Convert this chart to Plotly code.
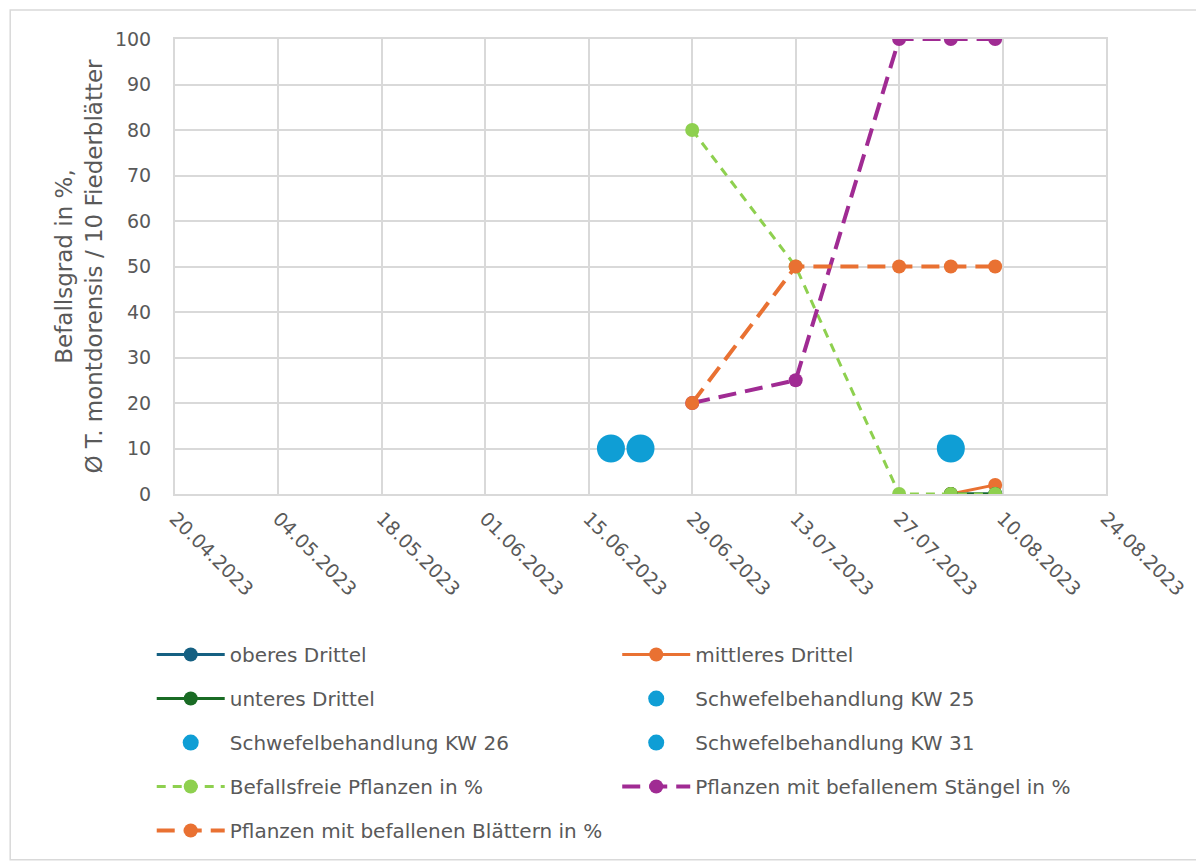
"""Befallsverlauf T. montdorensis 2023 - Plotly Nachbau."""
import plotly.graph_objs as go

# Drittel (Fiederblaetter)
dates_drittel = ["2023-08-03", "2023-08-09"]
oberes_drittel = [0, 0]
mittleres_drittel = [0, 2]
unteres_drittel = [0, 0]

# Schwefelbehandlungen
date_kw25 = ["2023-06-18"]
date_kw26 = ["2023-06-22"]
date_kw31 = ["2023-08-03"]
value_behandlung = [10]

# Bonituren Pflanzen in %
survey_dates = ["2023-06-29", "2023-07-13", "2023-07-27", "2023-08-03", "2023-08-09"]
befallsfrei = [80, 50, 0, 0, 0]
staengel = [20, 25, 100, 100, 100]
blaetter = [20, 50, 50, 50, 50]

FONT = "DejaVu Sans"
TEXT_COLOR = "#595959"
GRID = "#d9d9d9"

fig = go.Figure()


def add_line(x, y, name, color, legend, dash="solid", width=3, size=14):
    fig.add_trace(
        go.Scatter(
            x=x,
            y=y,
            name=name,
            mode="lines+markers",
            line=dict(color=color, width=width, dash=dash),
            marker=dict(color=color, size=size),
            legend=legend,
            legendgroup=name,
        )
    )


def add_dot(x, y, name, legend):
    fig.add_trace(
        go.Scatter(
            x=x,
            y=y,
            name=name,
            mode="markers",
            marker=dict(color="#0f9ed5", size=28),
            legend=legend,
            legendgroup=name,
        )
    )


# Trace order follows the Excel series order
add_line(dates_drittel, oberes_drittel, "oberes Drittel", "#156082", "legend")
add_line(dates_drittel, mittleres_drittel, "mittleres Drittel", "#e97132", "legend2")
add_line(dates_drittel, unteres_drittel, "unteres Drittel", "#196b24", "legend")
add_dot(date_kw25, value_behandlung, "Schwefelbehandlung KW 25", "legend2")
add_dot(date_kw26, value_behandlung, "Schwefelbehandlung KW 26", "legend")
add_dot(date_kw31, value_behandlung, "Schwefelbehandlung KW 31", "legend2")
add_line(survey_dates, befallsfrei, "Befallsfreie Pflanzen in %", "#8ed04f",
         "legend", dash="9px,7px", width=3)
add_line(survey_dates, staengel, "Pflanzen mit befallenem Stängel in %", "#a02b93",
         "legend2", dash="18px,9px", width=4)
add_line(survey_dates, blaetter, "Pflanzen mit befallenen Blättern in %", "#e97132",
         "legend", dash="18px,9px", width=4)

legend_style = dict(
    orientation="v",
    yanchor="top",
    xanchor="left",
    y=-0.31,
    font=dict(family=FONT, size=20, color=TEXT_COLOR),
    itemwidth=68,
    tracegroupgap=15,
    bgcolor="rgba(0,0,0,0)",
)

fig.update_layout(
    width=1204,
    height=861,
    # page body adds 8px offset, margins are set relative to that
    margin=dict(l=167, r=106, t=31, b=375),
    plot_bgcolor="white",
    paper_bgcolor="white",
    font=dict(family=FONT, size=19, color=TEXT_COLOR),
    showlegend=True,
    legend=dict(legend_style, x=-0.025),
    legend2=dict(legend_style, x=0.475),
)

fig.update_xaxes(
    type="date",
    range=["2023-04-20", "2023-08-24"],
    tick0="2023-04-20",
    dtick=14 * 24 * 3600 * 1000,
    tickformat="%d.%m.%Y",
    tickangle=45,
    ticklabelstandoff=4,
    showgrid=True,
    gridcolor=GRID,
    gridwidth=2,
    showline=True,
    linecolor=GRID,
    linewidth=2,
    mirror=True,
    ticks="",
    zeroline=False,
    tickfont=dict(size=19, color=TEXT_COLOR),
)

fig.update_yaxes(
    range=[0, 100],
    dtick=10,
    showgrid=True,
    gridcolor=GRID,
    gridwidth=2,
    showline=True,
    linecolor=GRID,
    linewidth=2,
    mirror=True,
    zeroline=False,
    ticks="",
    ticklabelstandoff=18,
    tickfont=dict(size=19, color=TEXT_COLOR),
    title=dict(
        text="Befallsgrad in %,<br>Ø T. montdorensis / 10 Fiederblätter",
        font=dict(size=23, color=TEXT_COLOR),
        standoff=6,
    ),
)

# Light frame around the whole chart area
fig.add_shape(
    type="rect",
    xref="paper",
    yref="paper",
    x0=-0.177,
    x1=1.104,
    y0=-0.804,
    y1=1.064,
    line=dict(color=GRID, width=1.5),
    layer="below",
)

fig.write_html("out.html")
